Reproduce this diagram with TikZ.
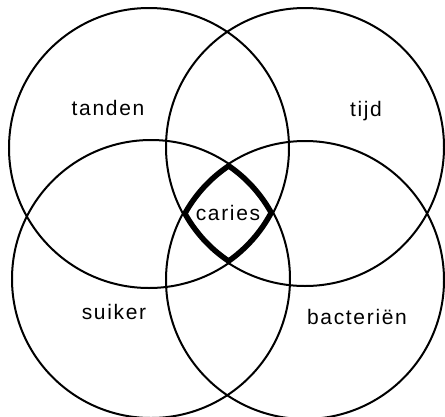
\documentclass[tikz,border=0pt]{standalone}
\usepackage{fontspec}
\newfontfamily\labfont[LetterSpace=8]{Liberation Sans}
\begin{document}
\begin{tikzpicture}[x=1pt,y=-1pt,
  ring/.style={draw=black,line width=2pt},
  core/.style={draw=black,line width=9pt},
  lab/.style={font=\labfont\fontsize{21}{25}\selectfont,inner sep=0pt}]
\useasboundingbox (0,0) rectangle (445,416);
\clip (0,0) rectangle (445,416);
\coordinate (cTL) at (149,148);
\coordinate (cTR) at (305,147);
\coordinate (cBL) at (151,279);
\coordinate (cBR) at (305,280);
\begin{scope}
  \clip (cTL) circle (140);
  \clip (cTR) circle (139);
  \clip (cBL) circle (139);
  \clip (cBR) circle (139);
  \draw[core] (cTL) circle (140);
  \draw[core] (cTR) circle (139);
  \draw[core] (cBL) circle (139);
  \draw[core] (cBR) circle (139);
\end{scope}
\draw[ring] (cTL) circle (140);
\draw[ring] (cTR) circle (139);
\draw[ring] (cBL) circle (139);
\draw[ring] (cBR) circle (139);
\node[lab] (tanden) at (108,108) {tanden};
\node[lab] (tijd) at (366,111) {tijd};
\node[lab] (suiker) at (114,312) {suiker};
\node[lab] (bact) at (357,317) {bacteriën};
\node[lab] (caries) at (228,213) {caries};
\end{tikzpicture}
\end{document}
